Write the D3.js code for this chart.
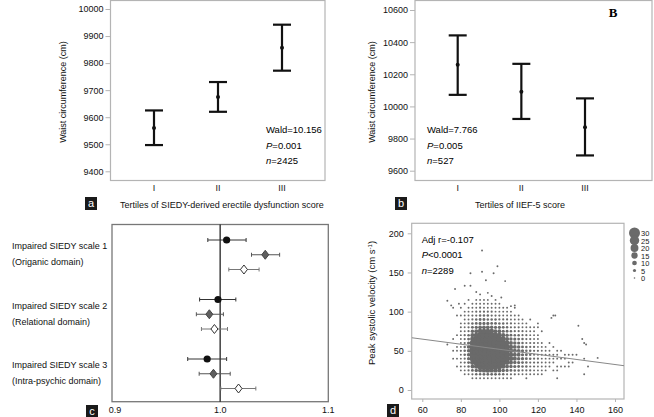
<!DOCTYPE html>
<html>
<head>
<meta charset="utf-8" />
<style>
  body { margin: 0; background: #fff; }
  svg { display: block; font-family: 'Liberation Sans', Arial, sans-serif; }
  .tick-label { font-size: 9px; fill: #111; }
  .title { font-size: 9px; fill: #111; }
  .note { font-size: 9.5px; fill: #000; }
</style>
</head>
<body>
<svg id="chart" width="654" height="417"></svg>
<script src="https://d3js.org/d3.v7.min.js"></script>
<script>
// ---- panel a data ----
var tertiles = ["I", "II", "III"];
var aMean = [9560, 9675, 9857];
var aLow = [9497, 9620, 9772];
var aHigh = [9625, 9730, 9942];
var aTicks = [9400, 9500, 9600, 9700, 9800, 9900, 10000];

// ---- panel b data ----
var bMean = [10260, 10092, 9870];
var bLow = [10072, 9922, 9695];
var bHigh = [10442, 10265, 10050];
var bTicks = [9600, 9800, 10000, 10200, 10400, 10600];

// ---- panel c data ----
var cGroups = ["Impaired SIEDY scale 1", "Impaired SIEDY scale 2", "Impaired SIEDY scale 3"];
var cDomains = ["(Origanic domain)", "(Relational domain)", "(Intra-psychic domain)"];
var cMarkers = ["black", "gray", "white"];
var cEst = [[1.006, 1.0417, 1.022], [0.998, 0.990, 0.9947], [0.988, 0.9938, 1.017]];
var cLow = [[0.9886, 1.029, 1.008], [0.981, 0.978, 0.9827], [0.970, 0.9806, 1.0006]];
var cHigh = [[1.024, 1.055, 1.036], [1.0145, 1.003, 1.0068], [1.006, 1.0093, 1.033]];
var cTicks = [0.9, 1.0, 1.1];

// ---- panel d data ----
// waist (cm) columns, counts per velocity bin
var dX = [76, 78, 80, 82, 84, 86, 88, 90, 92, 94, 96, 98, 100, 102, 104, 106, 108, 110, 112,
  114, 116, 118, 120, 122, 124, 126, 128, 130, 132, 134, 136, 138, 140, 142, 144, 146];
var dY = [15, 20, 25, 30, 35, 40, 45, 50, 55, 60, 65, 70, 75, 80, 85, 90, 95, 100, 105, 110, 115];
var dCounts = [
  [0,0,0,0,0,1,0,1,0,0,1,0,0,0,0,0,0,0,1,0,0],
  [0,0,0,1,0,1,0,1,1,0,0,1,0,0,0,0,1,0,0,0,0],
  [0,0,1,1,1,1,1,2,1,1,1,1,1,1,1,0,1,0,1,0,0],
  [0,1,1,1,2,2,3,3,3,2,2,2,1,1,1,1,1,1,0,1,0],
  [0,1,2,3,4,5,6,6,6,5,4,3,2,2,2,1,1,1,1,0,1],
  [1,2,4,7,10,12,14,15,14,12,10,8,6,4,3,2,2,1,1,1,0],
  [1,3,6,10,14,18,20,21,20,17,14,11,8,5,4,3,2,2,1,1,1],
  [1,3,8,13,18,23,26,27,25,22,18,14,10,7,5,4,3,2,2,1,1],
  [1,4,9,14,20,25,28,29,27,24,20,15,11,7,5,4,3,2,1,1,1],
  [1,4,10,15,21,26,29,30,28,25,20,15,11,7,5,3,3,2,1,1,1],
  [1,4,9,15,20,25,28,29,27,24,19,14,10,6,4,3,2,2,1,1,0],
  [1,4,9,14,19,23,26,27,25,21,17,12,8,5,4,3,2,1,1,1,1],
  [1,3,8,12,17,21,23,23,21,18,14,10,7,5,3,2,2,1,1,1,0],
  [1,3,6,10,13,16,18,18,16,14,11,8,5,4,3,2,1,1,1,0,0],
  [1,2,5,7,10,12,13,13,12,10,8,6,4,3,2,2,1,1,1,0,0],
  [1,2,4,6,8,10,10,10,9,8,6,4,3,2,2,1,1,1,0,0,0],
  [0,2,3,5,6,8,8,8,7,6,5,3,2,2,1,1,1,0,1,0,0],
  [0,1,3,4,5,6,7,7,6,5,4,3,2,2,1,1,1,0,0,0,0],
  [0,1,2,3,4,5,5,5,4,3,3,2,2,1,1,1,0,0,0,0,0],
  [1,1,2,3,3,4,4,3,3,2,2,2,1,1,1,0,0,0,0,0,0],
  [0,1,2,2,2,3,3,3,2,2,2,1,1,1,0,1,0,0,0,0,0],
  [0,1,1,2,2,2,2,2,2,2,1,1,1,1,0,0,0,0,0,0,0],
  [0,1,1,1,2,2,2,2,1,1,1,1,0,1,1,0,0,0,0,0,0],
  [0,1,1,1,1,1,1,1,1,1,0,0,1,0,0,0,0,0,0,0,0],
  [0,0,1,1,1,1,1,1,1,0,0,0,0,0,0,0,0,0,0,0,0],
  [0,0,0,1,1,1,1,1,0,1,0,0,0,0,0,0,0,0,0,0,0],
  [0,0,1,0,1,1,1,0,1,0,0,0,0,0,0,0,1,0,0,0,0],
  [1,0,1,1,0,1,1,1,0,0,0,0,0,0,0,0,0,0,0,0,0],
  [0,0,0,1,0,1,0,1,0,0,0,0,0,0,0,0,0,0,0,0,0],
  [0,0,0,1,0,1,1,0,0,0,0,0,0,0,0,0,0,0,0,0,0],
  [0,0,0,1,1,0,1,0,0,0,0,0,0,0,0,0,0,0,0,0,0],
  [0,0,0,0,1,0,1,0,0,0,0,0,0,0,0,0,0,0,0,0,0],
  [0,0,0,0,0,0,1,0,0,0,0,0,0,0,0,0,0,0,0,0,0],
  [0,0,0,0,0,0,0,0,0,0,0,0,0,0,0,0,0,0,0,0,0],
  [0,1,0,0,0,1,0,0,0,1,0,0,0,0,0,0,0,0,0,0,0],
  [0,0,0,1,0,0,0,0,0,0,0,0,0,0,0,0,0,0,0,0,0]
];
// single points away from the bins
var dOutX = [91, 99, 85, 91, 97, 93, 103, 77, 82, 85, 73, 75, 88, 90, 94, 96, 101, 106, 108, 79, 73, 141, 143, 145, 151, 127, 129];
var dOutY = [178, 158, 149, 151, 149, 140, 139, 129, 133, 133, 114, 108, 125, 122, 124, 120, 118, 107, 108, 110, 58, 82, 65, 58, 41, 92, 95];
var dFit = [[54.5, 66.7], [164.7, 31]];
var dXTicks = [60, 80, 100, 120, 140, 160];
var dYTicks = [0, 50, 100, 150, 200];
var dSizes = [30, 25, 20, 15, 10, 5, 0];

var svg = d3.select("#chart");
var frameColor = "#b4b4b4";

function panelTag(x, y, letter) {
  svg.append("rect").attr("x", x).attr("y", y).attr("width", 12).attr("height", 13).attr("fill", "#1a1a1a");
  svg.append("text").attr("x", x + 6).attr("y", y + 10).attr("text-anchor", "middle")
    .attr("fill", "#fff").style("font-size", "11px").text(letter);
}

function notes(x, y0, lines) {
  lines.forEach(function (l, i) {
    var t = svg.append("text").attr("class", "note").attr("x", x).attr("y", y0 + i * 15.6);
    if (l[0]) t.append("tspan").style("font-style", "italic").text(l[0]);
    t.append("tspan").text(l[1]);
  });
}

// error bar panels (a and b)
function errorPanel(opt) {
  var x = d3.scalePoint().domain(tertiles).range(opt.xRange);
  var y = d3.scaleLinear().domain(opt.yDomain).range(opt.yRange);

  svg.append("rect").attr("x", opt.left).attr("y", 0.5)
    .attr("width", opt.right - opt.left).attr("height", 180)
    .attr("fill", "none").attr("stroke", frameColor).attr("stroke-width", 1.2);

  var ax = svg.append("g").attr("transform", "translate(" + opt.left + ",0)")
    .call(d3.axisLeft(y).tickValues(opt.ticks).tickSize(5).tickFormat(d3.format("d")));
  ax.select(".domain").remove();
  ax.selectAll(".tick line").attr("stroke", frameColor);
  ax.selectAll(".tick text").attr("class", "tick-label").attr("x", -7)
    .attr("font-size", null).attr("font-family", null);

  tertiles.forEach(function (t) {
    svg.append("text").attr("class", "tick-label").attr("x", x(t)).attr("y", 191)
      .attr("text-anchor", "middle").text(t);
  });

  var g = svg.append("g");
  tertiles.forEach(function (t, i) {
    var cx = x(t);
    g.append("line").attr("x1", cx).attr("x2", cx).attr("y1", y(opt.low[i])).attr("y2", y(opt.high[i]))
      .attr("stroke", "#111").attr("stroke-width", 2.2);
    [opt.low[i], opt.high[i]].forEach(function (v) {
      g.append("line").attr("x1", cx - 9).attr("x2", cx + 9).attr("y1", y(v)).attr("y2", y(v))
        .attr("stroke", "#111").attr("stroke-width", 2.2);
    });
    g.append("circle").attr("cx", cx).attr("cy", y(opt.mean[i])).attr("r", 2).attr("fill", "#111");
  });

  svg.append("text").attr("class", "title")
    .attr("transform", "translate(" + opt.yTitleX + ",92) rotate(-90)")
    .attr("text-anchor", "middle").text("Waist circumference (cm)");
  svg.append("text").attr("class", "title").attr("x", opt.xTitleX).attr("y", 208)
    .attr("text-anchor", "middle").text(opt.xTitle);
}

errorPanel({
  left: 110.5, right: 325, xRange: [154, 282], yDomain: [9400, 10000], yRange: [171.3, 9],
  ticks: aTicks, mean: aMean, low: aLow, high: aHigh, yTitleX: 66, xTitleX: 222,
  xTitle: "Tertiles of SIEDY-derived erectile dysfunction score"
});
notes(266, 133, [["", "Wald=10.156"], ["P", "=0.001"], ["n", "=2425"]]);
panelTag(85, 197, "a");

errorPanel({
  left: 415, right: 652, xRange: [457.7, 585], yDomain: [9600, 10600], yRange: [170.7, 10],
  ticks: bTicks, mean: bMean, low: bLow, high: bHigh, yTitleX: 375, xTitleX: 520,
  xTitle: "Tertiles of IIEF-5 score"
});
notes(427, 133, [["", "Wald=7.766"], ["P", "=0.005"], ["n", "=527"]]);
panelTag(395, 197, "b");
svg.append("text").attr("x", 613).attr("y", 17).attr("text-anchor", "middle")
  .style("font-family", "'Liberation Serif', serif").style("font-weight", "bold").style("font-size", "13px")
  .text("B");

// ---- panel c: forest plot ----
(function () {
  var x = d3.scaleLinear().domain([0.9, 1.1]).range([112, 328.3]);
  var yGroup = d3.scalePoint().domain(cGroups).range([240, 359]);
  var yMark = d3.scalePoint().domain(cMarkers).range([0, 29.5]);
  var top = 224.5, bottom = 401.7;

  svg.append("rect").attr("x", 112).attr("y", top).attr("width", 216.3).attr("height", bottom - top)
    .attr("fill", "none").attr("stroke", "#777").attr("stroke-width", 1.3);
  svg.append("line").attr("x1", x(1)).attr("x2", x(1)).attr("y1", top).attr("y2", bottom)
    .attr("stroke", "#222").attr("stroke-width", 1.3);

  cTicks.forEach(function (t) {
    svg.append("text").attr("class", "tick-label").attr("x", x(t) + (t === 0.9 ? 3 : 0)).attr("y", 413)
      .attr("text-anchor", "middle").text(d3.format(".1f")(t));
  });

  var lineColor = { black: "#333", gray: "#555", white: "#777" };
  cGroups.forEach(function (gname, gi) {
    var gy = yGroup(gname);
    svg.append("text").attr("class", "title").attr("x", 12).attr("y", gy + 9).text(gname);
    svg.append("text").attr("class", "title").attr("x", 12).attr("y", gy + 25).text(cDomains[gi]);
    cMarkers.forEach(function (m, mi) {
      var cy = gy + yMark(m);
      var x0 = x(cLow[gi][mi]), x1 = x(cHigh[gi][mi]), cx = x(cEst[gi][mi]);
      svg.append("line").attr("x1", x0).attr("x2", x1).attr("y1", cy).attr("y2", cy)
        .attr("stroke", lineColor[m]).attr("stroke-width", 1);
      [x0, x1].forEach(function (xx) {
        svg.append("line").attr("x1", xx).attr("x2", xx).attr("y1", cy - 2).attr("y2", cy + 2)
          .attr("stroke", lineColor[m]).attr("stroke-width", 1);
      });
      if (m === "black") {
        svg.append("circle").attr("cx", cx).attr("cy", cy).attr("r", 3.6).attr("fill", "#111");
      } else {
        svg.append("path")
          .attr("d", "M" + cx + "," + (cy - 4.5) + "L" + (cx + 3.5) + "," + cy + "L" + cx + "," + (cy + 4.5) + "L" + (cx - 3.5) + "," + cy + "Z")
          .attr("fill", m === "gray" ? "#5f5f5f" : "#fff")
          .attr("stroke", m === "gray" ? "#444" : "#333").attr("stroke-width", 1);
      }
    });
  });
  panelTag(86, 405, "c");
})();

// ---- panel d: bubble scatter ----
(function () {
  var left = 411.7, right = 624, top = 223.3, bottom = 399;
  var x = d3.scaleLinear().domain([60, 160]).range([422.3, 615]);
  var y = d3.scaleLinear().domain([0, 200]).range([390, 233.3]);
  var r = d3.scaleLinear().domain([0, 30]).range([0.8, 5.5]).clamp(true);
  var dotColor = "#6a6a6a";

  svg.append("clipPath").attr("id", "dclip").append("rect")
    .attr("x", left).attr("y", top).attr("width", right - left).attr("height", bottom - top);

  svg.append("rect").attr("x", left).attr("y", top).attr("width", right - left).attr("height", bottom - top)
    .attr("fill", "none").attr("stroke", frameColor).attr("stroke-width", 1.2);

  var ay = svg.append("g").attr("transform", "translate(" + left + ",0)")
    .call(d3.axisLeft(y).tickValues(dYTicks).tickSize(4));
  ay.select(".domain").remove();
  ay.selectAll(".tick line").attr("stroke", frameColor);
  ay.selectAll(".tick text").attr("class", "tick-label").attr("x", -8).attr("font-size", null).attr("font-family", null);

  var ax = svg.append("g").attr("transform", "translate(0," + bottom + ")")
    .call(d3.axisBottom(x).tickValues(dXTicks).tickSize(3));
  ax.select(".domain").remove();
  ax.selectAll(".tick line").attr("stroke", frameColor);
  ax.selectAll(".tick text").attr("class", "tick-label").attr("y", 8).attr("font-size", null).attr("font-family", null);

  var cells = [];
  dX.forEach(function (xv, i) {
    dY.forEach(function (yv, j) {
      if (dCounts[i][j] > 0) cells.push({ x: xv, y: yv, n: dCounts[i][j] });
    });
  });
  dOutX.forEach(function (xv, i) { cells.push({ x: xv, y: dOutY[i], n: 1 }); });

  var plot = svg.append("g").attr("clip-path", "url(#dclip)");
  plot.selectAll("circle").data(cells).enter().append("circle")
    .attr("cx", function (d) { return x(d.x); })
    .attr("cy", function (d) { return y(d.y); })
    .attr("r", function (d) { return r(d.n); })
    .attr("fill", dotColor);

  plot.append("path").datum(dFit)
    .attr("d", d3.line().x(function (d) { return x(d[0]); }).y(function (d) { return y(d[1]); }))
    .attr("stroke", "#888").attr("stroke-width", 1).attr("fill", "none");

  svg.append("text").attr("class", "title").attr("transform", "translate(375,303) rotate(-90)")
    .attr("text-anchor", "middle").style("font-size", "9.5px")
    .html("Peak systolic velocity (cm s<tspan dy='-3' style='font-size:6px'>-1</tspan><tspan dy='3'>)</tspan>");

  notes(421.7, 242.5, [["", "Adj r=-0.107"], ["P", "<0.0001"], ["n", "=2289"]]);

  // size legend, tightly stacked like the source
  var ly = d3.scalePoint().domain(dSizes).range([233, 278]);
  dSizes.forEach(function (s) {
    svg.append("circle").attr("cx", 634.5).attr("cy", ly(s)).attr("r", r(s)).attr("fill", dotColor);
    svg.append("text").attr("x", 641).attr("y", ly(s) + 3)
      .style("font-size", "7.5px").attr("fill", "#222").text(s);
  });

  panelTag(387, 404, "d");
})();
</script>
</body>
</html>
